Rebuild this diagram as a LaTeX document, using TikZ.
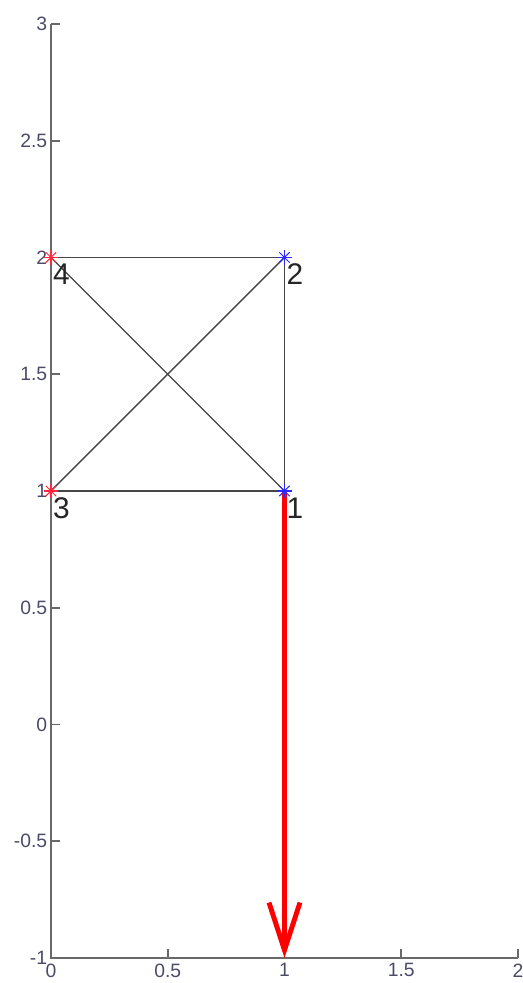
\documentclass[tikz,border=0pt]{standalone}
\usepackage{fontspec}
\setmainfont{Liberation Sans}
\usetikzlibrary{arrows.meta}
\definecolor{axisgray}{RGB}{105,105,105}
\definecolor{ticktext}{RGB}{75,75,105}
\definecolor{membergray}{RGB}{70,70,70}
\definecolor{loadred}{RGB}{255,0,0}
\definecolor{markblue}{RGB}{40,40,255}
\definecolor{markred}{RGB}{255,40,60}
\tikzset{
  axisline/.style={axisgray, line width=1pt},
  ticklabel/.style={ticktext, font=\fontsize{11}{13}\selectfont, inner sep=1pt},
  member/.style={membergray, line width=0.8pt},
  joint/.style={inner sep=0pt, minimum size=0pt},
  jointlabel/.style={font=\fontsize{17}{19}\selectfont, text=black!85, anchor=north west, inner sep=1pt, yshift=-2.5pt},
  loadarrow/.style={loadred, line width=2.9pt, -{Straight Barb[length=0.95cm, width=0.62cm, line width=2.8pt]}}
}
\begin{document}
\begin{tikzpicture}[x=4.67cm, y=4.67cm]
  \useasboundingbox (-0.2184,-1.1071) rectangle (2.0214,3.1028);

  % axes
  \coordinate (O) at (0,-1);
  \draw[axisline] (0,3) -- (O) -- (2,-1);
  \foreach \y in {-1,-0.5,0,0.5,1,1.5,2,2.5,3} {
    \draw[axisline] (0,\y) -- ++(5pt,0);
    \node[ticklabel, left=1pt] at (0,\y) {\y};
  }
  \foreach \x in {0,0.5,1,1.5,2} {
    \draw[axisline] (\x,-1) -- ++(0,5pt);
    \node[ticklabel, below=2pt] at (\x,-1) {\x};
  }

  % joints
  \node[joint] (n1) at (1,1) {};
  \node[joint] (n2) at (1,2) {};
  \node[joint] (n3) at (0,1) {};
  \node[joint] (n4) at (0,2) {};
  \coordinate (F) at (1,-1);

  % members
  \draw[member] (n1) -- (n2);
  \draw[member] (n2) -- (n4);
  \draw[member] (n4) -- (n1);
  \draw[member] (n3) -- (n1);
  \draw[member] (n3) -- (n2);

  % load
  \draw[loadarrow] (n1) -- (F);

  % markers
  \foreach \n/\c in {n1/markblue, n2/markblue, n3/markred, n4/markred} {
    \foreach \a in {0,45,90,135}
      \draw[\c, line width=0.6pt] (\n) ++(\a:4.2pt) -- ++(\a+180:8.4pt);
  }

  % labels
  \node[jointlabel] at (n1) {1};
  \node[jointlabel] at (n2) {2};
  \node[jointlabel] at (n3) {3};
  \node[jointlabel] at (n4) {4};
\end{tikzpicture}
\end{document}
